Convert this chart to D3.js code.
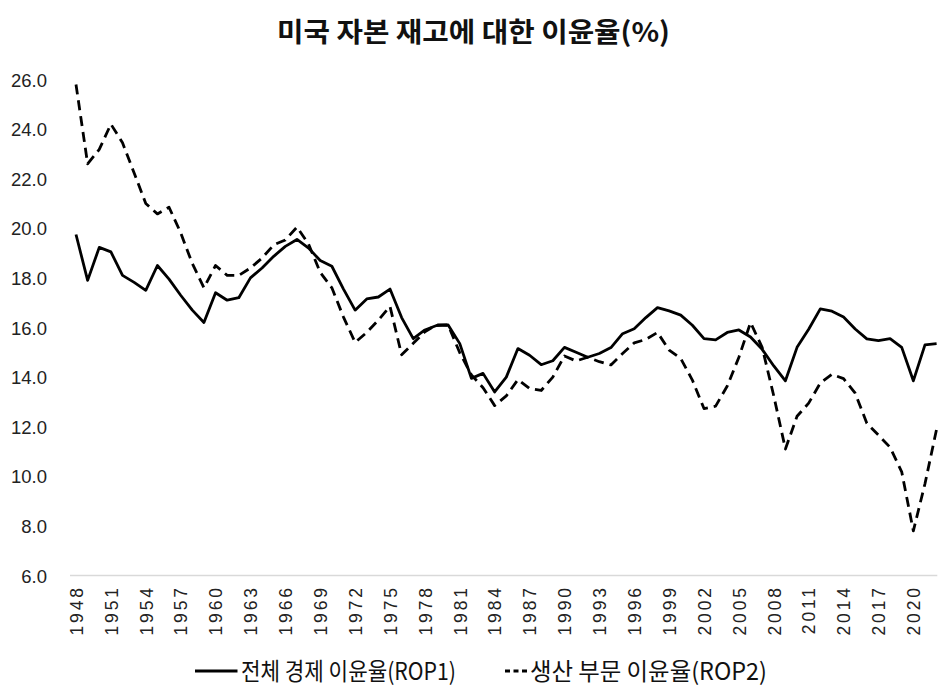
<!DOCTYPE html>
<html>
<head>
<meta charset="utf-8">
<script src="https://cdn.jsdelivr.net/npm/d3@7"></script>
<style>
  html, body { margin: 0; padding: 0; background: #fff; }
  svg { display: block; }
</style>
</head>
<body>
<script>
// ---- data ----
const years = [1948,1949,1950,1951,1952,1953,1954,1955,1956,1957,1958,1959,1960,1961,1962,1963,1964,1965,1966,1967,
  1968,1969,1970,1971,1972,1973,1974,1975,1976,1977,1978,1979,1980,1981,1982,1983,1984,1985,1986,1987,
  1988,1989,1990,1991,1992,1993,1994,1995,1996,1997,1998,1999,2000,2001,2002,2003,2004,2005,2006,2007,
  2008,2009,2010,2011,2012,2013,2014,2015,2016,2017,2018,2019,2020,2021,2022];

const rop1 = [19.75,17.9,19.23,19.05,18.1,17.82,17.5,18.5,17.95,17.3,16.7,16.2,17.4,17.1,17.2,18.0,18.4,18.87,19.27,19.55,
  19.2,18.7,18.47,17.55,16.7,17.15,17.23,17.55,16.4,15.55,15.9,16.08,16.1,15.35,13.95,14.15,13.4,14.0,15.15,14.88,
  14.5,14.66,15.2,15.0,14.8,14.95,15.19,15.75,15.95,16.4,16.8,16.67,16.5,16.09,15.55,15.5,15.8,15.9,15.62,15.12,
  14.45,13.85,15.2,15.93,16.75,16.66,16.42,15.94,15.54,15.47,15.55,15.2,13.85,15.3,15.35];

const rop2 = [25.8,22.6,23.18,24.2,23.45,22.23,21.0,20.58,20.85,19.82,18.58,17.6,18.5,18.1,18.1,18.4,18.8,19.33,19.53,20.05,
  19.36,18.22,17.6,16.42,15.4,15.8,16.3,16.85,14.9,15.36,15.83,16.11,16.1,14.98,14.09,13.57,12.85,13.24,13.9,13.54,
  13.46,14.0,14.85,14.65,14.8,14.62,14.49,14.95,15.38,15.52,15.8,15.09,14.75,13.88,12.73,12.83,13.64,14.8,16.2,15.2,
  13.24,11.1,12.42,12.95,13.76,14.11,13.94,13.35,12.14,11.66,11.17,10.18,7.8,9.7,11.9];

const yTicks = [6,8,10,12,14,16,18,20,22,24,26];
const xTickYears = [1948,1951,1954,1957,1960,1963,1966,1969,1972,1975,1978,1981,1984,1987,1990,1993,1996,1999,2002,2005,2008,2011,2014,2017,2020];

const title = "미국 자본 재고에 대한 이윤율(%)";
const seriesNames = ["전체 경제 이윤율(ROP1)", "생산 부문 이윤율(ROP2)"];

// ---- chart ----
const W = 949, H = 691;
const svg = d3.select("body").append("svg").attr("width", W).attr("height", H);

const x = d3.scaleLinear().domain([1948, 2022]).range([76, 936.6]);
const y = d3.scaleLinear().domain([6, 26]).range([575.5, 79.5]);

const sansKR = "'Noto Sans CJK KR', 'Noto Sans', sans-serif";
const sansLat = "'Liberation Sans', Arial, sans-serif";

// title
svg.append("text")
  .attr("x", 277).attr("y", 41.7)
  .attr("font-family", sansKR).attr("font-weight", 700).attr("font-size", 27)
  .attr("textLength", 393).attr("lengthAdjust", "spacingAndGlyphs")
  .attr("fill", "#111")
  .text(title);

// baseline (category axis line)
svg.append("line")
  .attr("x1", 70).attr("x2", 937.3)
  .attr("y1", y(6)).attr("y2", y(6))
  .attr("stroke", "#d9d9d9").attr("stroke-width", 1.4);

// y axis labels
const yAxis = svg.append("g")
  .attr("transform", "translate(47,0)")
  .call(d3.axisLeft(y).tickValues(yTicks).tickSize(0).tickPadding(0).tickFormat(d3.format(".1f")));
yAxis.select(".domain").remove();
yAxis.selectAll("text")
  .attr("font-family", sansLat).attr("font-size", 18.5).attr("fill", "#222")
  .attr("dy", "0.36em");

// x axis labels (rotated)
const xAxis = svg.append("g")
  .attr("transform", `translate(0,${y(6)})`)
  .call(d3.axisBottom(x).tickValues(xTickYears).tickSize(0).tickFormat(d => String(d)));
xAxis.select(".domain").remove();
xAxis.selectAll("text")
  .attr("font-family", sansLat).attr("font-size", 17.5).attr("fill", "#222")
  .attr("letter-spacing", "2.9px")
  .attr("transform", "rotate(-90)")
  .attr("text-anchor", "end")
  .attr("x", -9.5).attr("y", 0).attr("dy", "0.36em");

// lines
const line1 = d3.line().x((d, i) => x(years[i])).y(d => y(d));
svg.append("path")
  .datum(rop2)
  .attr("d", line1)
  .attr("fill", "none").attr("stroke", "#000").attr("stroke-width", 2.8)
  .attr("stroke-dasharray", "10,6").attr("stroke-linejoin", "round");
svg.append("path")
  .datum(rop1)
  .attr("d", line1)
  .attr("fill", "none").attr("stroke", "#000").attr("stroke-width", 2.8)
  .attr("stroke-linejoin", "round");

// legend
const lg = svg.append("g");
lg.append("line").attr("x1", 195).attr("x2", 237.5).attr("y1", 671).attr("y2", 671)
  .attr("stroke", "#000").attr("stroke-width", 3);
lg.append("text").attr("x", 241).attr("y", 680)
  .attr("font-family", sansKR).attr("font-size", 24).attr("fill", "#111")
  .attr("textLength", 215).attr("lengthAdjust", "spacingAndGlyphs")
  .text(seriesNames[0]);
lg.append("line").attr("x1", 505).attr("x2", 527).attr("y1", 671).attr("y2", 671)
  .attr("stroke", "#000").attr("stroke-width", 3).attr("stroke-dasharray", "5,3.5");
lg.append("text").attr("x", 530).attr("y", 680)
  .attr("font-family", sansKR).attr("font-size", 24).attr("fill", "#111")
  .attr("textLength", 237).attr("lengthAdjust", "spacingAndGlyphs")
  .text(seriesNames[1]);
</script>
</body>
</html>
